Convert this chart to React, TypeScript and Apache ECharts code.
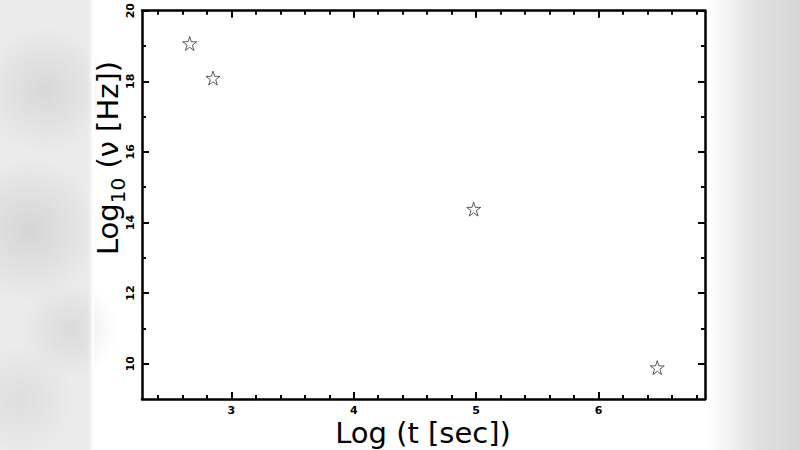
import React, { useEffect, useRef } from "react";
import * as echarts from "echarts";

const logT = [2.66, 2.85, 4.98, 6.48];
const logNu = [19.07, 18.09, 14.38, 9.89];
const xMajor = [3, 4, 5, 6];
const xMinor = [2.4, 2.6, 2.8, 3.2, 3.4, 3.6, 3.8, 4.2, 4.4, 4.6, 4.8, 5.2, 5.4, 5.6, 5.8, 6.2, 6.4, 6.6, 6.8];
const yMajor = [10, 12, 14, 16, 18, 20];
const yMinor = [11, 13, 15, 17, 19];
const xRange = [2.27, 6.87];
const yRange = [9, 20];

const STAR = "path://M50,2 L61,36 L97,36 L68,57 L79,92 L50,71 L21,92 L32,57 L3,36 L39,36 Z";
const FONT = "DejaVu Sans";

export default function App() {
  const ref = useRef<HTMLDivElement>(null);
  useEffect(() => {
    const chart = echarts.init(ref.current!, null, { renderer: "svg" });
    const lineStyle = { color: "#000", width: 2.5 };
    const mkX = (pos: string, vals: number[], len: number, labels: boolean, line: boolean) => ({
      type: "value",
      position: pos,
      min: xRange[0],
      max: xRange[1],
      axisLine: { show: line, onZero: false, lineStyle },
      splitLine: { show: false },
      axisTick: { show: true, inside: true, length: len, customValues: vals, lineStyle: { color: "#000", width: 2 } },
      axisLabel: labels
        ? { show: true, customValues: xMajor, color: "#000", fontWeight: "bold", fontSize: 11, fontFamily: FONT, margin: 6 }
        : { show: false },
    });
    const mkY = (pos: string, vals: number[], len: number, labels: boolean, line: boolean) => ({
      type: "value",
      position: pos,
      min: yRange[0],
      max: yRange[1],
      axisLine: { show: line, onZero: false, lineStyle },
      splitLine: { show: false },
      axisTick: { show: true, inside: true, length: len, customValues: vals, lineStyle: { color: "#000", width: 2 } },
      axisLabel: labels
        ? { show: true, customValues: yMajor, rotate: 90, color: "#000", fontWeight: "bold", fontSize: 11, fontFamily: FONT, margin: 6 }
        : { show: false },
    });
    chart.setOption({
      animation: false,
      backgroundColor: "#fff",
      grid: { left: 142, right: 95, top: 7, bottom: 51 },
      graphic: [
        {
          type: "rect",
          silent: true,
          z: -10,
          shape: { x: 0, y: 0, width: 92, height: 450 },
          style: { fill: "#ebebeb" },
        },
        ...[
          [45, 90, 40, 0.35],
          [30, 230, 45, 0.4],
          [70, 330, 30, 0.3],
          [20, 400, 35, 0.25],
        ].map(([cx, cy, r, a]) => ({
          type: "circle",
          silent: true,
          z: -9,
          shape: { cx, cy, r: r * 1.6 },
          style: {
            fill: {
              type: "radial", x: 0.5, y: 0.5, r: 0.5,
              colorStops: [
                { offset: 0, color: `rgba(180,180,180,${a})` },
                { offset: 1, color: "rgba(180,180,180,0)" },
              ],
            },
          },
        })),
        {
          type: "rect",
          silent: true,
          z: -8,
          shape: { x: 88, y: 0, width: 6, height: 450 },
          style: {
            fill: { type: "linear", x: 0, y: 0, x2: 1, y2: 0, colorStops: [{ offset: 0, color: "rgba(255,255,255,0)" }, { offset: 1, color: "#fff" }] },
          },
        },
        {
          type: "rect",
          silent: true,
          z: -10,
          shape: { x: 708, y: 0, width: 92, height: 450 },
          style: {
            fill: { type: "linear", x: 0, y: 0, x2: 1, y2: 0, colorStops: [{ offset: 0, color: "#fff" }, { offset: 0.5, color: "#e2e2e2" }, { offset: 1, color: "#d6d6d6" }] },
          },
        },
        {
          type: "text",
          x: 423,
          y: 433,
          style: { text: "Log (t [sec])", font: `29px '${FONT}'`, fill: "#000", align: "center", verticalAlign: "middle" },
        },
        {
          type: "text",
          x: 106,
          y: 158,
          rotation: Math.PI / 2,
          style: {
            text: "{a|Log}{b|10}{a| (ν [Hz])}",
            fill: "#000",
            align: "center",
            verticalAlign: "middle",
            rich: {
              a: { fontSize: 29, fontFamily: FONT, fill: "#000", verticalAlign: "bottom", lineHeight: 32 },
              b: { fontSize: 20, fontFamily: FONT, fill: "#000", verticalAlign: "bottom", lineHeight: 22, padding: [0, 0, -6, 0] },
            },
          },
        },
      ],
      xAxis: [
        mkX("bottom", xMajor, 7, true, true),
        mkX("bottom", xMinor, 4, false, false),
        mkX("top", xMajor, 7, false, true),
        mkX("top", xMinor, 4, false, false),
      ],
      yAxis: [
        mkY("left", yMajor, 7, true, true),
        mkY("left", yMinor, 4, false, false),
        mkY("right", yMajor, 7, false, true),
        mkY("right", yMinor, 4, false, false),
      ],
      series: [
        {
          type: "scatter",
          xAxisIndex: 0,
          yAxisIndex: 0,
          symbol: STAR,
          symbolSize: 14,
          itemStyle: { color: "#fff", borderColor: "#333", borderWidth: 1 },
          data: logT.map((x, i) => [x, logNu[i]]),
        },
      ],
    });
    return () => chart.dispose();
  }, []);
  return <div ref={ref} style={{ position: "fixed", left: 0, top: 0, width: 800, height: 450 }} />;
}
